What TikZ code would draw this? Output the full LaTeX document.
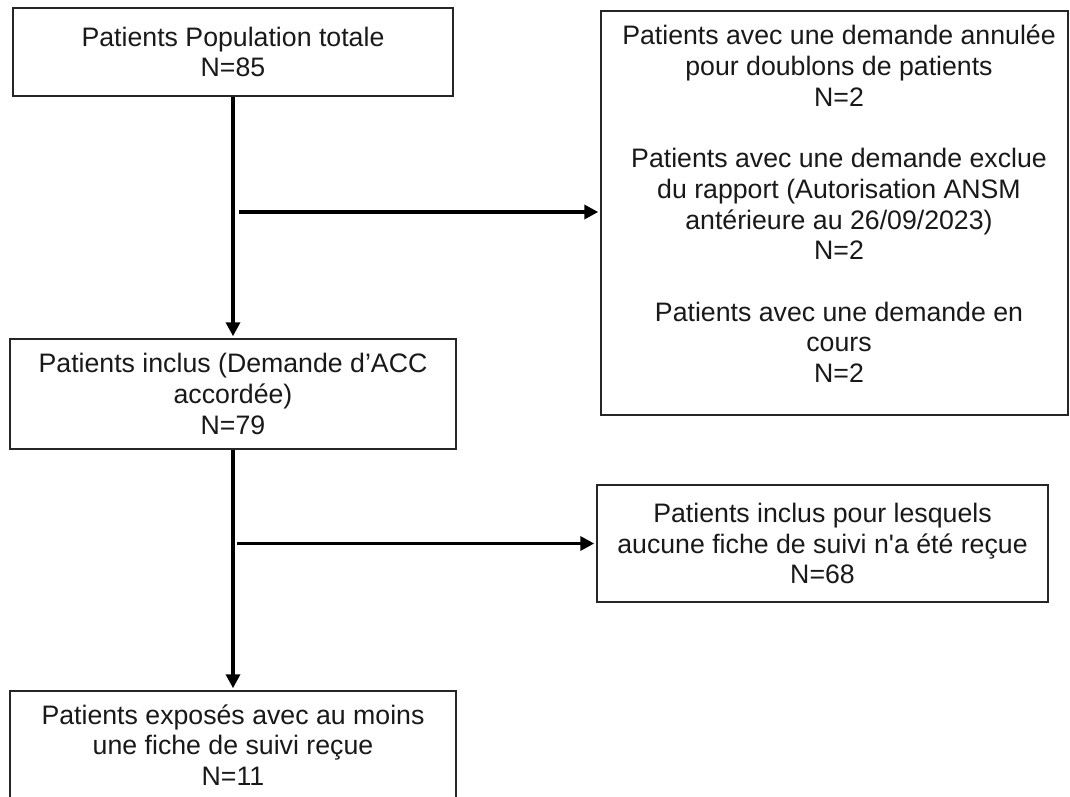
\documentclass[tikz,border=0pt]{standalone}
\usepackage{fontspec}
\setmainfont{Liberation Sans}
\newfontfamily\rawfont{Liberation Sans}
\usetikzlibrary{arrows.meta}
\tikzset{
  box/.style={draw=black!85, line width=1.5pt, rectangle, inner sep=0pt, align=center,
    text=black!90, font=\fontsize{26.7}{30.7}\selectfont},
  txt/.style={inner sep=0pt, align=center, text=black!90, font=\fontsize{26.7}{30.7}\selectfont},
  arr/.style={draw=black, line width=3.6pt, -{Triangle[length=14pt,width=14pt]}, shorten >=2pt},
  flow/.style={draw=black, line width=3.6pt}
}
\begin{document}
\begin{tikzpicture}[x=1pt,y=1pt]
\useasboundingbox (0,0) rectangle (1070,-796);
\fill[white] (0,0) rectangle (1070,-796);
\node[box, minimum width=440, minimum height=88] (A) at (233,-52)
  {Patients Population totale\\N=85};
\node[box, minimum width=446, minimum height=110] (B) at (233,-394)
  {Patients inclus (Demande d’ACC\\accordée)\\N=79};
\node[box, minimum width=446, minimum height=108] (C) at (233,-745)
  {Patients exposés avec au moins\\une fiche de suivi reçue\\N=11};
\node[box, minimum width=467, minimum height=404] (D) at (834.5,-213) {};
\node[txt] (Dt) at (839,-204)
  {Patients avec une demande annulée\\pour doublons de patients\\N=2\\[30.7pt]
   Patients avec une demande exclue\\du rapport (Autorisation ANSM\\antérieure au 26/09/2023)\\N=2\\[30.7pt]
   Patients avec une demande en\\cours\\N=2};
\node[box, minimum width=451, minimum height=117] (E) at (822.5,-543.5)
  {Patients inclus pour lesquels\\aucune fiche de suivi n{\rawfont'}a été reçue\\N=68};
\coordinate (b1) at (239,-212);
\coordinate (b2) at (237,-543.5);
\draw[arr] (A.south) -- (B.north);
\draw[arr] (B.south) -- (C.north);
\draw[arr] (b1) -- (b1 -| D.west);
\draw[arr] (b2) -- (E.west);
\end{tikzpicture}
\end{document}
